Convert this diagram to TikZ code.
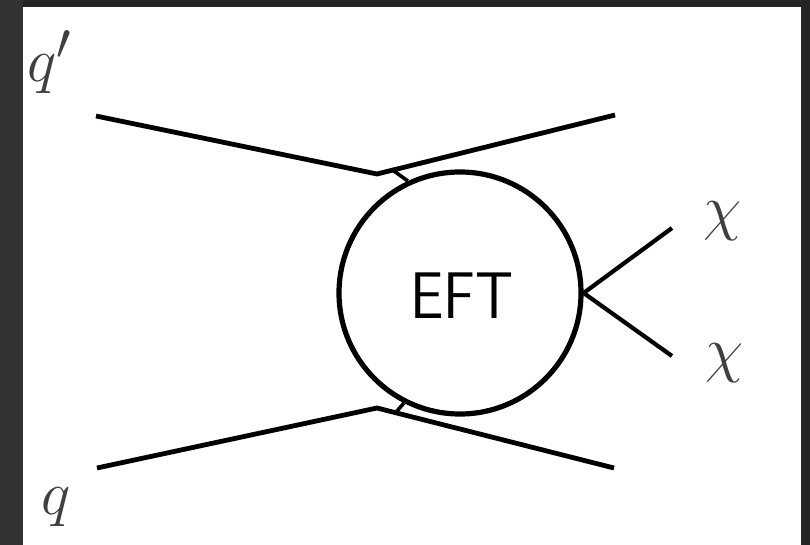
\documentclass[tikz,border=0pt]{standalone}
\usepackage{fontspec}
\usepackage{graphicx}
\begin{document}
\begin{tikzpicture}[x=1pt,y=-1pt,
  leg/.style={line width=4.8pt, line join=round},
  stub/.style={line width=3.6pt},
  dmline/.style={line width=4.2pt},
  blob/.style={circle, draw, line width=5.2pt, minimum size=242pt, inner sep=0pt, fill=white},
  lab/.style={anchor=base west, inner sep=0pt, outer sep=0pt, text=black!75, font=\fontsize{24.88}{30}\selectfont}]
\useasboundingbox (0,0) rectangle (810,545);
\fill[black!86] (0,0) rectangle (810,545);
\fill[black!80] (0,0) rectangle (23,545);
\fill[white] (23,7) rectangle (801,545);
% external legs
\coordinate (qp1) at (96,116);
\coordinate (k1) at (377,174);
\coordinate (qp2) at (615,115);
\coordinate (q1) at (97,468);
\coordinate (k2) at (377,408);
\coordinate (q2) at (614,468);
\coordinate (s1) at (394,171);
\coordinate (s2) at (397,411);
\coordinate (c1) at (672,228);
\coordinate (c2) at (672,356);
\draw[leg] (qp1) -- (k1) -- (qp2);
\draw[leg] (q1) -- (k2) -- (q2);
\node[blob] (efc) at (460,293) {};
\draw[stub] (s1) -- (efc.115);
\draw[stub] (s2) -- (efc.243);
\draw[dmline] (efc.0) -- (c1);
\draw[dmline] (efc.0) -- (c2);
\node[anchor=base, inner sep=0pt, font=\fontsize{66}{66}\selectfont\sffamily] (eft) at (462,318) {\scalebox{0.9}[1]{EFT}};
\node[lab] (lqp) at (27,82) {\scalebox{2.5}{$q'$}};
\node[lab] (lq) at (41,514) {\scalebox{2.5}{$q$}};
\node[lab] (lc1) at (703,229) {\scalebox{2.5}{$\chi$}};
\node[lab] (lc2) at (705,370) {\scalebox{2.5}{$\chi$}};
\end{tikzpicture}
\end{document}
